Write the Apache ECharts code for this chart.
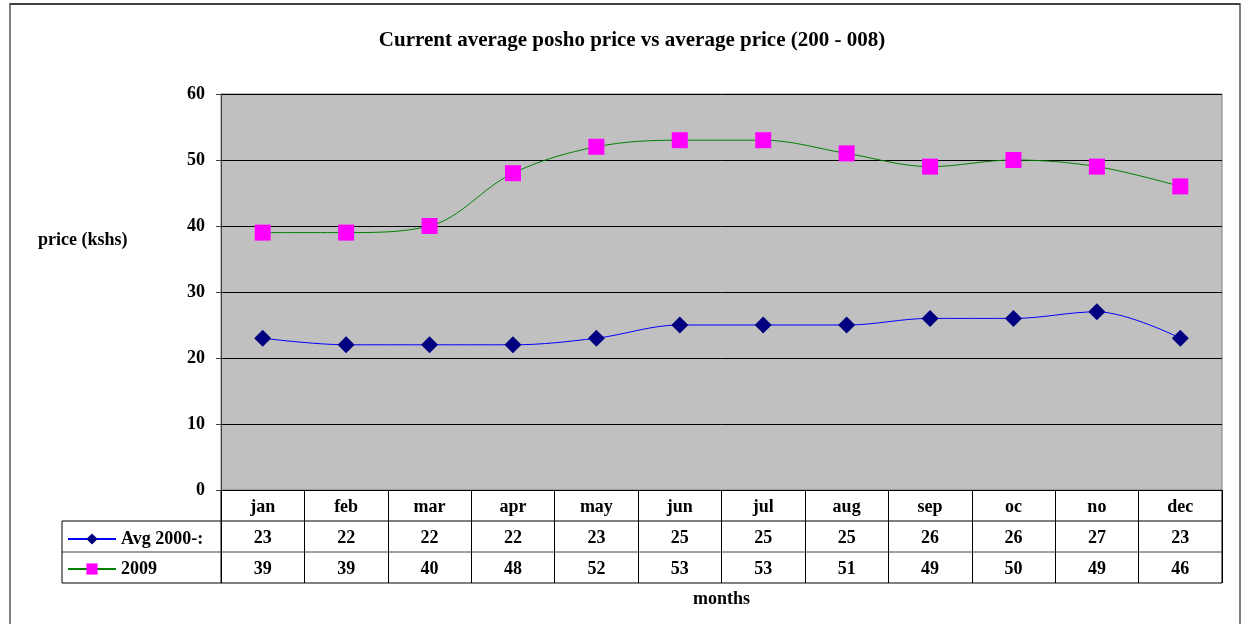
<!DOCTYPE html>
<html><head><meta charset="utf-8">
<script src="https://cdn.jsdelivr.net/npm/echarts@6/dist/echarts.min.js"></script>
<style>html,body{margin:0;padding:0;background:#fff}#c{width:1245px;height:624px}</style>
</head><body><div id="c"></div>
<script>
const months = ['jan','feb','mar','apr','may','jun','jul','aug','sep','oc','no','dec'];
const avgName = 'Avg 2000-:';
const avgValues = [23,22,22,22,23,25,25,25,26,26,27,23];
const y2009Name = '2009';
const y2009Values = [39,39,40,48,52,53,53,51,49,50,49,46];
const yTicks = {min:0, max:60, interval:10};

const FONT = '"Liberation Serif", "DejaVu Serif", serif';
const ROW = 31;
const chart = echarts.init(document.getElementById('c'), null, {renderer:'canvas'});
const lbl = {fontFamily:FONT, fontWeight:'bold', fontSize:18, color:'#000'};

const option = {
  animation:false,
  backgroundColor:'#fff',
  title:[
    {text:'Current average posho price vs average price (200 - 008)', left:627, top:25, textAlign:'center',
     textStyle:{fontFamily:FONT, fontWeight:'bold', fontSize:21, color:'#000'}},
    {text:'price (kshs)', left:33, top:226, textStyle:{fontFamily:FONT, fontWeight:'bold', fontSize:18, color:'#000'}}
  ],
  legend:{orient:'vertical', left:67, top:530, padding:0, itemWidth:48, itemHeight:14, itemGap:12,
    textStyle:Object.assign({lineHeight:14}, lbl), data:[avgName, y2009Name]},
  grid:{left:221, right:23, top:94, bottom:134, show:true, backgroundColor:'#C0C0C0', borderColor:'#808080', borderWidth:1},
  xAxis:[
    {type:'category', data:months, boundaryGap:true, position:'bottom',
     axisLine:{show:true, lineStyle:{color:'#000', width:1}},
     axisTick:{show:true, length:ROW*3, lineStyle:{color:'#000'}},
     axisLabel:Object.assign({margin:8, interval:0}, lbl),
     name:'months', nameLocation:'middle', nameGap:100, nameTextStyle:lbl},
    {type:'category', data:avgValues.map(String), position:'bottom', offset:ROW, gridIndex:0,
     axisLine:{show:false}, axisTick:{show:false}, axisLabel:Object.assign({margin:8, interval:0}, lbl)},
    {type:'category', data:y2009Values.map(String), position:'bottom', offset:ROW*2, gridIndex:0,
     axisLine:{show:false}, axisTick:{show:false}, axisLabel:Object.assign({margin:8, interval:0}, lbl)}
  ],
  yAxis:{type:'value', min:yTicks.min, max:yTicks.max, interval:yTicks.interval,
    axisLine:{show:true, lineStyle:{color:'#404040'}},
    axisTick:{show:true, length:5, lineStyle:{color:'#404040'}},
    splitLine:{show:true, lineStyle:{color:'#000', width:1}},
    axisLabel:Object.assign({margin:16}, lbl)},
  series:[
    {name:avgName, type:'line', data:avgValues, smooth:0.35, symbol:'diamond', symbolSize:17,
     itemStyle:{color:'#000080'}, lineStyle:{color:'#0000FF', width:1}, z:3},
    {name:y2009Name, type:'line', data:y2009Values, smooth:0.35, symbol:'rect', symbolSize:16,
     itemStyle:{color:'#FF00FF'}, lineStyle:{color:'#008000', width:1}, z:3}
  ]
};
chart.setOption(option);

const c0 = chart.convertToPixel({gridIndex:0}, [0, 0]);
const c1 = chart.convertToPixel({gridIndex:0}, [1, 0]);
const c11 = chart.convertToPixel({gridIndex:0}, [months.length-1, 0]);
const band = c1[0]-c0[0];
const xl = c0[0]-band/2, xr = c11[0]+band/2, yb = c0[1];
const legendLeft = 62;
const ln = (x1,y1,x2,y2,col)=>({type:'line', shape:{x1,y1,x2,y2}, style:{stroke:col||'#000', lineWidth:1}, z:10});
chart.setOption({graphic:[
  {type:'rect', shape:{x:10, y:4, width:1230, height:640}, style:{fill:null, stroke:'#808080', lineWidth:2}, z:-1},
  ln(10,4,1240,4,'#000'),
  ln(legendLeft, yb+ROW, xr, yb+ROW),
  ln(legendLeft, yb+ROW*2, xr, yb+ROW*2, '#404040'),
  ln(legendLeft, yb+ROW*3, xr, yb+ROW*3),
  ln(legendLeft, yb+ROW, legendLeft, yb+ROW*3),
  ln(xl, yb, xl, yb+ROW*3),
  ln(xr, yb, xr, yb+ROW*3)
]});
</script></body></html>
